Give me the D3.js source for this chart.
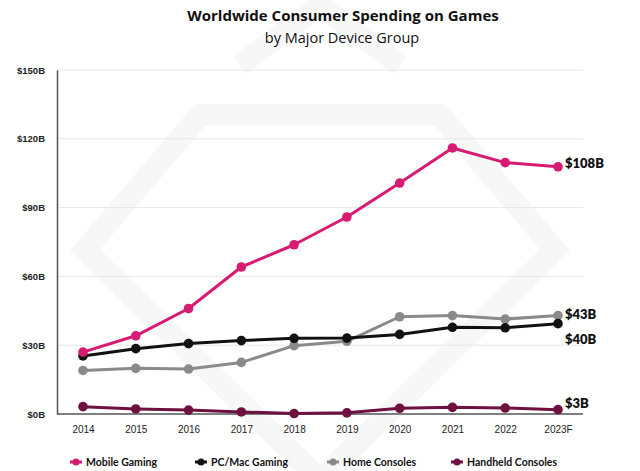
<!DOCTYPE html>
<html><head><meta charset="utf-8">
<script src="https://cdn.jsdelivr.net/npm/d3@7/dist/d3.min.js"></script>
<style>
html,body{margin:0;padding:0;background:#fff;}
svg{display:block;font-family:Lato,"Open Sans",sans-serif;}
</style></head><body>
<svg id="chart" width="640" height="471"></svg>
<script>
const years = ["2014","2015","2016","2017","2018","2019","2020","2021","2022","2023F"];
const mobile   = [27.0, 34.1, 46.0, 64.1, 73.8, 85.9, 100.7, 116.0, 109.6, 107.8];
const pcmac    = [25.3, 28.5, 30.7, 32.0, 33.0, 33.1, 34.7, 37.8, 37.6, 39.4];
const home     = [19.0, 19.9, 19.6, 22.5, 29.8, 31.7, 42.4, 42.9, 41.4, 42.9];
const handheld = [3.2, 2.2, 1.7, 0.9, 0.2, 0.5, 2.5, 2.9, 2.6, 1.9];
const yTicks = [0, 30, 60, 90, 120, 150];
const seriesNames = ["Mobile Gaming", "PC/Mac Gaming", "Home Consoles", "Handheld Consoles"];
const endLabels = ["$108B", "$40B", "$43B", "$3B"];
const colors = ["#d81b72", "#111111", "#8a8a8a", "#6e1040"];

const svg = d3.select("#chart");
const x = d3.scalePoint().domain(years).range([83, 558]);
const y = d3.scaleLinear().domain([0, 150]).range([414, 70]);

// faint watermark
const wm = svg.append("g").attr("fill","none").attr("stroke","#f7f7f7").attr("stroke-width",22);
wm.append("path").attr("d","M85,250 L200,115 L440,115 L555,250 L320,480 Z");
wm.append("path").attr("d","M240,65 L320,5 L400,65");

// grid
svg.append("g").selectAll("line").data(yTicks.filter(d=>d>0)).join("line")
  .attr("x1",57).attr("x2",583).attr("y1",d=>y(d)).attr("y2",d=>y(d))
  .attr("stroke","#e6e6e6").attr("stroke-width",1);

// axes
const yAxis = svg.append("g").attr("transform","translate(57,0)")
  .call(d3.axisLeft(y).tickValues(yTicks).tickSize(0).tickPadding(12).tickFormat(d=>"$"+d+"B"));
yAxis.select(".domain").attr("stroke","#555").attr("stroke-width",1.5);
yAxis.selectAll("text").attr("font-size",9.5).attr("fill","#222").attr("font-weight",600);

const xAxis = svg.append("g").attr("transform","translate(0,414)")
  .call(d3.axisBottom(x).tickSize(0).tickPadding(12));
xAxis.select(".domain").attr("d","M57,0H583").attr("stroke","#555").attr("stroke-width",1.5);
xAxis.selectAll("text").attr("font-size",10).attr("fill","#222");

// series
const data = [mobile, pcmac, home, handheld];
const line = d3.line().x((d,i)=>x(years[i])).y(d=>y(d));
const order = [2,1,0,3];
order.forEach(k=>{
  const g = svg.append("g");
  g.append("path").datum(data[k]).attr("d",line).attr("fill","none")
    .attr("stroke",colors[k]).attr("stroke-width",3).attr("stroke-linejoin","round");
  g.selectAll("circle").data(data[k]).join("circle")
    .attr("cx",(d,i)=>x(years[i])).attr("cy",d=>y(d)).attr("r",4.8).attr("fill",colors[k]);
});

// end labels
const labelY = [163, 339, 314, 403];
data.forEach((s,k)=>{
  svg.append("text").attr("x",565).attr("y",labelY[k]+4.5).text(endLabels[k])
    .attr("font-size",13).attr("font-weight",800).attr("fill","#111");
});

// title
svg.append("text").attr("x",343).attr("y",21).attr("text-anchor","middle")
  .attr("font-family","'Open Sans',sans-serif")
  .attr("font-size",15).attr("font-weight",700).attr("fill","#111").text("Worldwide Consumer Spending on Games");
svg.append("text").attr("x",342).attr("y",43).attr("text-anchor","middle")
  .attr("font-family","'Open Sans',sans-serif")
  .attr("font-size",14.5).attr("fill","#111").text("by Major Device Group");

// legend
const legX = [76, 201, 333, 457];
seriesNames.forEach((n,k)=>{
  const g = svg.append("g").attr("transform",`translate(${legX[k]},462)`);
  g.append("line").attr("x1",-6).attr("x2",6).attr("stroke",colors[k]).attr("stroke-width",3);
  g.append("circle").attr("r",3.5).attr("fill",colors[k]);
  g.append("text").attr("x",10).attr("y",3.5).attr("font-size",10.5).attr("font-weight",700)
    .attr("fill","#111").text(n);
});
</script>
</body></html>
